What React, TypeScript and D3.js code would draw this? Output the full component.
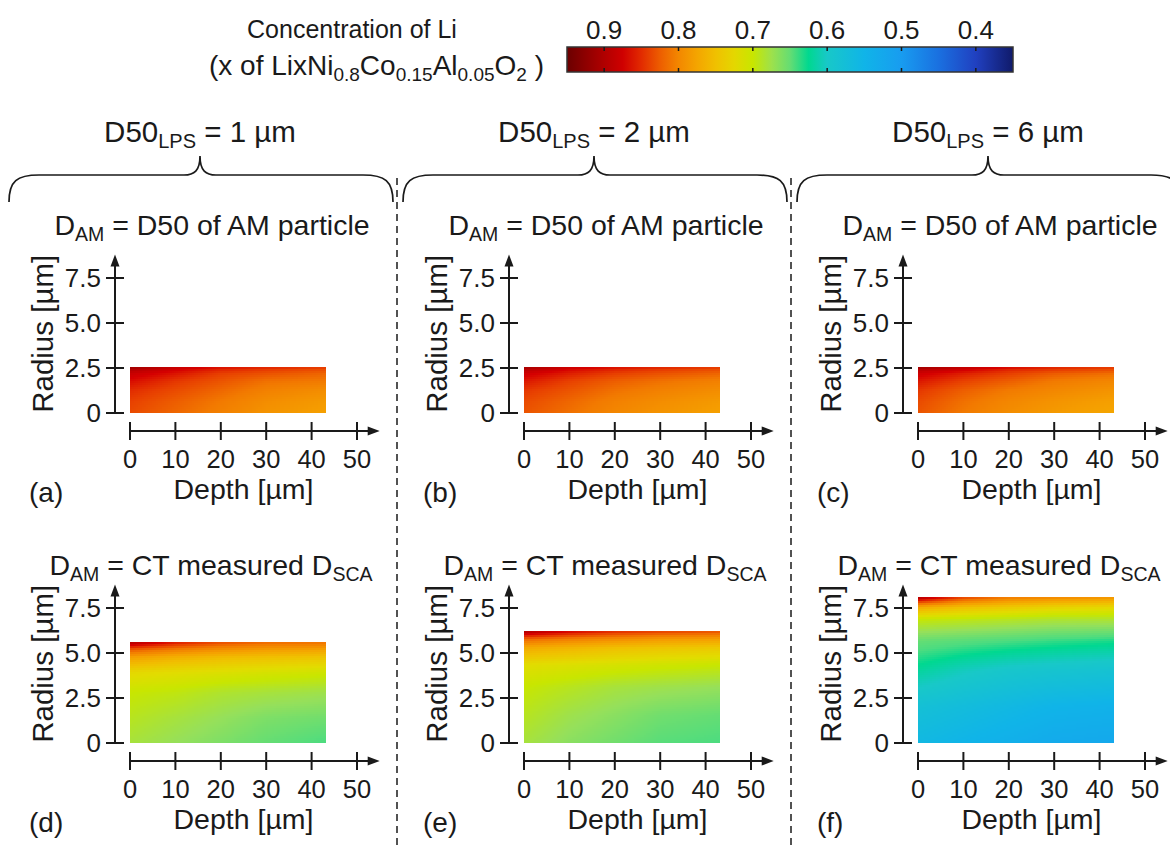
import React, { useMemo } from 'react';
import * as d3 from 'd3';

// grid the concentration was read on: depth [µm] x fraction of the particle radius
const depthGrid = [0, 10, 20, 30, 43];
const radiusFrac = [0, 0.25, 0.5, 0.7, 0.85, 0.93, 1];

const panelLetters = ['(a)', '(b)', '(c)', '(d)', '(e)', '(f)'];
const lpsSizes = ['1', '2', '6'];
const particleRadius = [2.55, 2.55, 2.55, 5.6, 6.2, 8.1];

const depthTicks = [0, 10, 20, 30, 40, 50];
const radiusTicks = [0, 2.5, 5, 7.5];
const radiusTickLabels = ['0', '2.5', '5.0', '7.5'];
const cbTicks = [0.9, 0.8, 0.7, 0.6, 0.5, 0.4];

// colour map of the scale bar
const cmapValues = [0.95, 0.9, 0.87, 0.84, 0.81, 0.78, 0.75, 0.72, 0.7, 0.67, 0.64, 0.625, 0.6, 0.55, 0.5, 0.45, 0.4, 0.35];
const cmapColors = ['#6b0000', '#b00000', '#d50000', '#e84000', '#f27a00', '#f5a000', '#f0c000', '#e2dc00', '#c8e600',
  '#96e05a', '#4cdc80', '#00d890', '#18c8c8', '#10b4e8', '#189cf0', '#1a70e0', '#2040c0', '#101a6a'];

// rows: radius fraction (bottom -> top), columns: depth
const concA = [
  [0.835, 0.82, 0.805, 0.79, 0.78],
  [0.84, 0.825, 0.81, 0.795, 0.785],
  [0.85, 0.835, 0.82, 0.805, 0.795],
  [0.865, 0.845, 0.83, 0.815, 0.81],
  [0.88, 0.86, 0.84, 0.83, 0.82],
  [0.895, 0.87, 0.85, 0.84, 0.83],
  [0.915, 0.885, 0.865, 0.855, 0.845],
];
const concB = [
  [0.83, 0.815, 0.8, 0.79, 0.78],
  [0.835, 0.82, 0.805, 0.795, 0.785],
  [0.845, 0.83, 0.815, 0.805, 0.795],
  [0.86, 0.84, 0.825, 0.815, 0.805],
  [0.875, 0.855, 0.84, 0.83, 0.82],
  [0.89, 0.865, 0.85, 0.84, 0.83],
  [0.91, 0.88, 0.865, 0.855, 0.845],
];
const concC = [
  [0.83, 0.81, 0.795, 0.785, 0.775],
  [0.835, 0.815, 0.8, 0.79, 0.78],
  [0.845, 0.825, 0.81, 0.8, 0.79],
  [0.86, 0.84, 0.825, 0.81, 0.8],
  [0.875, 0.855, 0.84, 0.825, 0.815],
  [0.89, 0.87, 0.85, 0.84, 0.83],
  [0.915, 0.89, 0.87, 0.855, 0.845],
];
const concD = [
  [0.68, 0.67, 0.66, 0.65, 0.64],
  [0.69, 0.68, 0.67, 0.66, 0.655],
  [0.7, 0.695, 0.685, 0.68, 0.675],
  [0.725, 0.72, 0.715, 0.71, 0.705],
  [0.78, 0.765, 0.755, 0.75, 0.745],
  [0.83, 0.81, 0.795, 0.785, 0.78],
  [0.9, 0.86, 0.835, 0.82, 0.815],
];
const concE = [
  [0.68, 0.665, 0.655, 0.645, 0.64],
  [0.69, 0.675, 0.665, 0.655, 0.65],
  [0.7, 0.69, 0.68, 0.675, 0.67],
  [0.72, 0.715, 0.71, 0.705, 0.7],
  [0.77, 0.76, 0.75, 0.745, 0.74],
  [0.82, 0.805, 0.795, 0.785, 0.78],
  [0.9, 0.87, 0.85, 0.84, 0.83],
];
const concF = [
  [0.56, 0.55, 0.54, 0.53, 0.525],
  [0.58, 0.57, 0.56, 0.55, 0.545],
  [0.62, 0.605, 0.595, 0.59, 0.585],
  [0.65, 0.645, 0.64, 0.635, 0.63],
  [0.7, 0.695, 0.69, 0.685, 0.685],
  [0.77, 0.75, 0.74, 0.73, 0.725],
  [0.9, 0.84, 0.81, 0.8, 0.79],
];
const panelConc = [concA, concB, concC, concD, concE, concF];

const FONT = '"Liberation Sans", Arial, sans-serif';
const INK = '#1a1a1a';

const colorOf = d3.scaleLinear<string>()
  .domain(cmapValues)
  .range(cmapColors)
  .interpolate(d3.interpolateRgb)
  .clamp(true);

function lookup(grid: number[][], d: number, f: number) {
  const i = Math.max(0, Math.min(depthGrid.length - 2, d3.bisectRight(depthGrid, d) - 1));
  const j = Math.max(0, Math.min(radiusFrac.length - 2, d3.bisectRight(radiusFrac, f) - 1));
  const tx = Math.max(0, Math.min(1, (d - depthGrid[i]) / (depthGrid[i + 1] - depthGrid[i])));
  const ty = Math.max(0, Math.min(1, (f - radiusFrac[j]) / (radiusFrac[j + 1] - radiusFrac[j])));
  const lo = grid[j][i] + (grid[j][i + 1] - grid[j][i]) * tx;
  const hi = grid[j + 1][i] + (grid[j + 1][i + 1] - grid[j + 1][i]) * tx;
  return lo + (hi - lo) * ty;
}

function Panel({ idx }: { idx: number }) {
  const col = idx % 3;
  const row = Math.floor(idx / 3);
  const dx = col * 394;
  const dy = row * 330;
  const x = d3.scaleLinear().domain([0, 50]).range([130 + dx, 357 + dx]);
  const y = d3.scaleLinear().domain([0, 7.5]).range([413 + dy, 278 + dy]);
  const axX = 115 + dx;
  const axY = 431 + dy;
  const R = particleRadius[idx];
  const grid = panelConc[idx];
  const dMax = depthGrid[depthGrid.length - 1];

  const cells = useMemo(() => {
    const out: { x: number; y: number; w: number; h: number; c: string }[] = [];
    const x0 = Math.round(x(0)), x1 = x(dMax);
    const yTop = Math.round(y(R)), yBot = y(0);
    const step = 2;
    for (let py = yTop; py < yBot; py += step) {
      const h = Math.min(step, yBot - py);
      const f = Math.max(0, Math.min(1, y.invert(py + h / 2) / R));
      for (let px = x0; px < x1; px += step) {
        const w = Math.min(step, x1 - px);
        const d = x.invert(px + w / 2);
        out.push({ x: px, y: py, w, h, c: colorOf(lookup(grid, d, f)) });
      }
    }
    return out;
  }, [idx]);

  const yTip = y(8.8);
  const xTip = x(55);

  return (
    <g>
      <g shapeRendering="crispEdges">
        {cells.map((c, k) => (
          <rect key={k} x={c.x} y={c.y} width={c.w + 0.4} height={c.h + 0.4} fill={c.c} />
        ))}
      </g>
      {/* y axis */}
      <line x1={axX} x2={axX} y1={y(0)} y2={yTip + 8} stroke={INK} strokeWidth={2} />
      <path d={`M${axX},${yTip} L${axX - 4.5},${yTip + 12} L${axX + 4.5},${yTip + 12} Z`} fill={INK} />
      {radiusTicks.map((t, k) => (
        <g key={k}>
          <line x1={axX - 9} x2={axX + 9} y1={y(t)} y2={y(t)} stroke={INK} strokeWidth={2} />
          <text x={axX - 14} y={y(t)} dy="0.36em" textAnchor="end" fontSize={26} fill={INK}>{radiusTickLabels[k]}</text>
        </g>
      ))}
      <text transform={`translate(${53 + dx},${(y(0) + yTip) / 2}) rotate(-90)`} textAnchor="middle" fontSize={29.5} fill={INK}>Radius [µm]</text>
      {/* x axis */}
      <line x1={x(0)} x2={xTip - 8} y1={axY} y2={axY} stroke={INK} strokeWidth={2} />
      <path d={`M${xTip},${axY} L${xTip - 12},${axY - 4.5} L${xTip - 12},${axY + 4.5} Z`} fill={INK} />
      {depthTicks.map((t) => (
        <g key={t}>
          <line x1={x(t)} x2={x(t)} y1={axY - 9} y2={axY + 9} stroke={INK} strokeWidth={2} />
          <text x={x(t)} y={468 + dy} textAnchor="middle" fontSize={25.5} fill={INK}>{t}</text>
        </g>
      ))}
      <text x={x(25)} y={499 + dy} textAnchor="middle" fontSize={28.5} fill={INK}>Depth [µm]</text>
      <text x={29 + dx} y={502 + dy} fontSize={28} fill={INK}>{panelLetters[idx]}</text>
      {/* panel title */}
      {row === 0 ? (
        <text x={212 + dx} y={235} textAnchor="middle" fontSize={28.5} fill={INK}>
          D<tspan fontSize={19.5} dy={6}>AM</tspan><tspan dy={-6}> = D50 of AM particle</tspan>
        </text>
      ) : (
        <text x={211 + dx} y={575} textAnchor="middle" fontSize={28.5} fill={INK}>
          D<tspan fontSize={19.5} dy={6}>AM</tspan><tspan dy={-6}> = CT measured D</tspan><tspan fontSize={19.5} dy={6}>SCA</tspan>
        </text>
      )}
    </g>
  );
}

function Brace({ left, right, tip }: { left: number; right: number; tip: number }) {
  const yb = 202, yh = 175, yt = 156;
  const d = `M${left},${yb} C${left},${yh + 6} ${left + 8},${yh} ${left + 30},${yh} L${tip - 16},${yh} ` +
    `C${tip - 6},${yh} ${tip},${yh - 4} ${tip},${yt} C${tip},${yh - 4} ${tip + 6},${yh} ${tip + 16},${yh} ` +
    `L${right - 30},${yh} C${right - 8},${yh} ${right},${yh + 6} ${right},${yb}`;
  return <path d={d} fill="none" stroke={INK} strokeWidth={1.7} />;
}

function ColorBar() {
  const cb = d3.scaleLinear().domain([0.95, 0.35]).range([567, 1013]);
  const stops = d3.range(0, 25).map((k) => k / 24);
  return (
    <g>
      <defs>
        <linearGradient id="cbgrad" x1="0" x2="1" y1="0" y2="0">
          {stops.map((s) => (
            <stop key={s} offset={s} stopColor={colorOf(cb.domain()[0] + (cb.domain()[1] - cb.domain()[0]) * s)} />
          ))}
        </linearGradient>
      </defs>
      <rect x={cb(0.95)} y={47} width={cb(0.35) - cb(0.95)} height={25} fill="url(#cbgrad)" stroke="#333" strokeWidth={1.5} />
      {cbTicks.map((t) => (
        <g key={t}>
          <line x1={cb(t)} x2={cb(t)} y1={47} y2={51} stroke={INK} strokeWidth={1.5} />
          <line x1={cb(t)} x2={cb(t)} y1={68} y2={72} stroke={INK} strokeWidth={1.5} />
          <text x={cb(t)} y={39} textAnchor="middle" fontSize={26} fill={INK}>{t.toFixed(1)}</text>
        </g>
      ))}
      <text x={352} y={38} textAnchor="middle" fontSize={25} fill={INK}>Concentration of Li</text>
      <text x={544} y={75} textAnchor="end" fontSize={28} fill={INK}>
        (x of LixNi<tspan fontSize={19} dy={6}>0.8</tspan><tspan dy={-6}>Co</tspan><tspan fontSize={19} dy={6}>0.15</tspan>
        <tspan dy={-6}>Al</tspan><tspan fontSize={19} dy={6}>0.05</tspan><tspan dy={-6}>O</tspan><tspan fontSize={19} dy={6}>2</tspan>
        <tspan dy={-6}> )</tspan>
      </text>
    </g>
  );
}

export default function App() {
  return (
    <svg width={1170} height={850} style={{ position: 'absolute', left: 0, top: 0, background: '#fff' }}
      fontFamily={FONT}>
      <rect width={1170} height={850} fill="#fff" />
      <ColorBar />
      {lpsSizes.map((s, i) => (
        <g key={s}>
          <text x={200 + 394 * i} y={142} textAnchor="middle" fontSize={29.5} fill={INK}>
            D50<tspan fontSize={20} dy={6}>LPS</tspan><tspan dy={-6}> = {s} µm</tspan>
          </text>
          <Brace left={9 + 394 * i} right={393 + 394 * i} tip={200 + 394 * i} />
        </g>
      ))}
      {[1, 2].map((k) => (
        <line key={k} x1={397 + 394 * (k - 1)} x2={397 + 394 * (k - 1)} y1={178} y2={850}
          stroke={INK} strokeWidth={1.5} strokeDasharray="7,5" />
      ))}
      {d3.range(6).map((i) => <Panel key={i} idx={i} />)}
    </svg>
  );
}
